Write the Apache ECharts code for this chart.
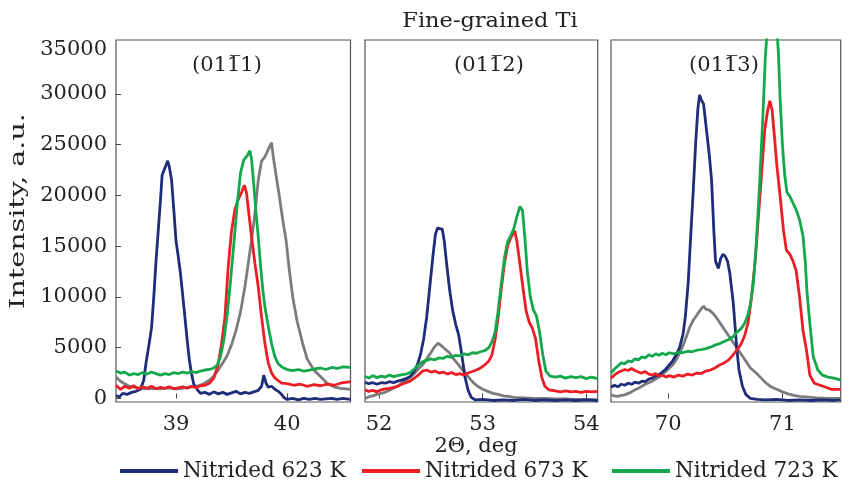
<!DOCTYPE html>
<html>
<head>
<meta charset="utf-8">
<script src="https://cdn.jsdelivr.net/npm/echarts@6.0.0/dist/echarts.min.js"></script>
<style>
  body { margin: 0; background: #fff; }
  #main { width: 849px; height: 486px; }
</style>
</head>
<body>
<div id="main"></div>
<script>
// series names (gray curve is not in the legend)
var names = ["Nitrided 623 K", "Nitrided 673 K", "Nitrided 723 K", "Initial"];
var colors = ["#1e2c7a", "#ec1d25", "#13a84b", "#7c7c7c"];
var panelTitles = ["(011\u03051)", "(011\u03052)", "(011\u03053)"];
var xTicks = [[39, 40], [52, 53, 54], [70, 71]];
var yTicks = [0, 5000, 10000, 15000, 20000, 25000, 30000, 35000];

// panel 1: (01-11)
var p1Blue = [[38.46,300],[38.49,150],[38.52,500],[38.56,400],[38.60,600],[38.64,700],[38.68,900],[38.71,1800],[38.73,3500],[38.76,5500],[38.78,7000],[38.80,10000],[38.82,13500],[38.84,16500],[38.86,19500],[38.875,22000],[38.90,22700],[38.925,23400],[38.94,22800],[38.96,21500],[38.98,18600],[39.00,15500],[39.02,14000],[39.04,12300],[39.06,10200],[39.08,8000],[39.10,5800],[39.12,3800],[39.14,2400],[39.16,1400],[39.19,900],[39.22,500],[39.26,600],[39.30,400],[39.34,650],[39.38,450],[39.42,600],[39.46,400],[39.50,550],[39.54,700],[39.58,450],[39.62,600],[39.66,500],[39.70,650],[39.74,800],[39.77,1200],[39.79,2300],[39.81,1500],[39.83,1100],[39.86,1200],[39.89,900],[39.92,700],[39.95,400],[39.97,100],[40.00,-100],[40.05,0],[40.10,-150],[40.15,0],[40.20,-100],[40.25,0],[40.30,-100],[40.35,-50],[40.40,0],[40.45,-100],[40.50,0],[40.57,-100]];
var p1Red = [[38.46,1300],[38.50,900],[38.54,1200],[38.58,1000],[38.62,1250],[38.66,950],[38.70,1150],[38.74,1000],[38.78,1200],[38.82,950],[38.86,1100],[38.90,1000],[38.94,1150],[38.98,950],[39.02,1050],[39.06,1150],[39.10,1000],[39.14,1200],[39.18,1050],[39.22,1250],[39.26,1300],[39.30,1500],[39.34,2000],[39.38,3400],[39.41,5400],[39.44,8000],[39.47,13000],[39.50,16500],[39.53,18600],[39.56,19600],[39.59,20300],[39.615,21000],[39.635,20200],[39.65,18700],[39.68,15900],[39.71,13300],[39.74,11000],[39.77,8000],[39.80,5400],[39.83,3500],[39.86,2500],[39.89,2000],[39.95,1500],[40.00,1450],[40.06,1300],[40.12,1400],[40.18,1200],[40.24,1350],[40.30,1250],[40.36,1400],[40.42,1300],[40.48,1500],[40.57,1650]];
var p1Green = [[38.46,2700],[38.50,2500],[38.54,2600],[38.58,2300],[38.62,2450],[38.66,2350],[38.70,2550],[38.74,2400],[38.78,2600],[38.82,2450],[38.86,2300],[38.90,2450],[38.94,2350],[38.98,2550],[39.02,2450],[39.06,2600],[39.10,2500],[39.14,2650],[39.18,2550],[39.22,2700],[39.26,2800],[39.30,2850],[39.34,3000],[39.37,3300],[39.40,4100],[39.43,5700],[39.46,8200],[39.49,11500],[39.52,15200],[39.55,19000],[39.58,22200],[39.61,23500],[39.64,23900],[39.665,24400],[39.68,23500],[39.70,21000],[39.72,18300],[39.74,15900],[39.76,13200],[39.78,10800],[39.80,9000],[39.83,7100],[39.86,5400],[39.89,4100],[39.92,3400],[39.96,3050],[40.00,2850],[40.05,2750],[40.10,2850],[40.15,2700],[40.20,2800],[40.25,2900],[40.30,3000],[40.35,2850],[40.40,3050],[40.45,2950],[40.50,3100],[40.57,3050]];
var p1Gray = [[38.46,2100],[38.50,1700],[38.53,1500],[38.57,1250],[38.61,1150],[38.66,1050],[38.70,1000],[38.75,950],[38.80,1000],[38.85,950],[38.90,1000],[38.95,1050],[39.00,950],[39.05,1000],[39.10,1100],[39.15,1150],[39.20,1250],[39.25,1450],[39.30,1800],[39.34,2200],[39.38,2800],[39.42,3500],[39.46,4200],[39.50,5300],[39.54,6700],[39.58,8500],[39.62,11000],[39.65,13300],[39.68,15600],[39.71,18200],[39.74,21500],[39.77,23400],[39.80,23800],[39.83,24500],[39.86,25200],[39.875,23800],[39.90,22000],[39.93,19900],[39.96,17600],[39.99,15600],[40.02,12600],[40.05,10000],[40.09,7600],[40.14,5400],[40.18,3900],[40.24,2800],[40.30,2150],[40.36,1500],[40.42,1150],[40.48,1000],[40.57,900]];

// panel 2: (01-12)
var p2Blue = [[51.865,1600],[51.90,1450],[51.94,1550],[51.98,1400],[52.02,1550],[52.06,1500],[52.10,1650],[52.14,1550],[52.18,1700],[52.22,1800],[52.26,1950],[52.30,2150],[52.34,2700],[52.37,3300],[52.40,4300],[52.43,5800],[52.46,8000],[52.49,11000],[52.52,14000],[52.545,16200],[52.565,16800],[52.59,16700],[52.61,16700],[52.63,15500],[52.65,13500],[52.68,10800],[52.71,8700],[52.74,7300],[52.77,6200],[52.80,4200],[52.83,2100],[52.86,800],[52.89,100],[52.93,-150],[53.0,-100],[53.1,-200],[53.2,-150],[53.3,-200],[53.4,-100],[53.5,-200],[53.6,-150],[53.7,-200],[53.8,-150],[53.9,-200],[54.0,-150],[54.11,-200]];
var p2Red = [[51.865,850],[51.90,700],[51.94,800],[51.98,650],[52.02,850],[52.06,950],[52.10,1000],[52.14,1100],[52.18,1200],[52.22,1400],[52.26,1550],[52.30,1700],[52.34,2000],[52.38,2300],[52.42,2700],[52.46,2800],[52.50,2600],[52.54,2700],[52.58,2500],[52.62,2600],[52.66,2400],[52.70,2550],[52.74,2350],[52.78,2450],[52.82,2300],[52.86,2500],[52.90,2650],[52.94,2800],[52.98,3000],[53.02,3300],[53.06,3700],[53.09,4300],[53.12,5800],[53.15,8000],[53.18,10800],[53.21,13300],[53.24,15000],[53.27,15800],[53.31,16500],[53.33,15500],[53.36,13200],[53.39,10800],[53.42,8600],[53.45,7500],[53.48,6900],[53.51,5900],[53.54,3800],[53.57,2100],[53.60,1200],[53.64,850],[53.70,750],[53.75,650],[53.80,750],[53.85,650],[53.90,700],[53.95,600],[54.00,700],[54.05,650],[54.11,700]];
var p2Green = [[51.865,2200],[51.90,2000],[51.94,2250],[51.98,2050],[52.02,2200],[52.06,2100],[52.10,2300],[52.14,2150],[52.18,2250],[52.22,2350],[52.26,2400],[52.30,2550],[52.34,2900],[52.38,3300],[52.42,3600],[52.46,3750],[52.50,3900],[52.54,3800],[52.58,4000],[52.62,3950],[52.66,4150],[52.70,4050],[52.74,4250],[52.78,4200],[52.82,4400],[52.86,4300],[52.90,4500],[52.94,4450],[52.98,4600],[53.02,4700],[53.06,5000],[53.09,5600],[53.12,6500],[53.15,8700],[53.18,11300],[53.21,13800],[53.24,15400],[53.27,16000],[53.30,16700],[53.33,17900],[53.36,18900],[53.385,18500],[53.41,15500],[53.43,12600],[53.46,10000],[53.49,8700],[53.52,8100],[53.55,6500],[53.58,4300],[53.61,2700],[53.65,2200],[53.70,2100],[53.75,2200],[53.80,2000],[53.85,2150],[53.90,2050],[53.95,2150],[54.00,1950],[54.05,2100],[54.11,1950]];
var p2Gray = [[51.865,0],[51.90,150],[51.94,250],[51.98,400],[52.02,500],[52.06,600],[52.10,800],[52.14,1000],[52.18,1200],[52.22,1500],[52.26,1750],[52.30,2100],[52.34,2450],[52.38,2900],[52.42,3300],[52.46,3900],[52.50,4500],[52.53,5000],[52.57,5450],[52.60,5200],[52.64,4850],[52.68,4500],[52.72,3900],[52.76,3400],[52.80,2900],[52.84,2400],[52.88,1900],[52.92,1450],[52.96,1150],[53.00,900],[53.05,700],[53.10,500],[53.15,400],[53.20,250],[53.25,200],[53.30,100],[53.40,50],[53.50,0],[53.60,0],[53.70,-50],[53.80,-50],[53.90,-100],[54.00,-100],[54.11,-150]];

// panel 3: (01-13)
var p3Blue = [[69.50,1100],[69.53,1300],[69.56,1150],[69.59,1400],[69.62,1300],[69.65,1500],[69.68,1400],[69.71,1600],[69.74,1500],[69.77,1700],[69.80,1650],[69.83,1900],[69.86,2000],[69.89,2200],[69.92,2350],[69.95,2600],[69.98,2900],[70.01,3300],[70.04,3700],[70.07,4300],[70.10,5000],[70.13,6300],[70.15,8000],[70.175,11300],[70.20,16500],[70.22,20500],[70.24,25000],[70.26,28500],[70.275,29900],[70.29,29400],[70.31,29000],[70.335,26500],[70.36,24000],[70.38,21500],[70.40,16500],[70.415,13500],[70.44,12800],[70.46,13800],[70.48,14200],[70.50,14000],[70.52,13500],[70.54,12300],[70.57,9400],[70.60,5000],[70.62,2800],[70.65,1200],[70.68,400],[70.72,0],[70.78,-100],[70.85,-150],[70.95,-100],[71.05,-200],[71.15,-150],[71.25,-200],[71.35,-150],[71.45,-200],[71.51,-150]];
var p3Red = [[69.50,2000],[69.53,2300],[69.56,2550],[69.59,2700],[69.62,2850],[69.65,2750],[69.68,2950],[69.71,2750],[69.74,2600],[69.77,2500],[69.80,2650],[69.83,2400],[69.86,2300],[69.89,2450],[69.92,2200],[69.95,2300],[69.98,2100],[70.01,2250],[70.05,2100],[70.09,2300],[70.13,2200],[70.17,2400],[70.21,2300],[70.25,2500],[70.29,2450],[70.33,2700],[70.37,2800],[70.41,3000],[70.45,3300],[70.49,3500],[70.53,3800],[70.57,4300],[70.61,4900],[70.64,5400],[70.67,6200],[70.70,7500],[70.73,10000],[70.76,13300],[70.79,17900],[70.82,22500],[70.845,26400],[70.87,28300],[70.89,29300],[70.91,28400],[70.93,25800],[70.95,23100],[70.98,19900],[71.01,16500],[71.035,14600],[71.065,14200],[71.09,13600],[71.12,12600],[71.15,10000],[71.18,6700],[71.21,4800],[71.24,2300],[71.28,1500],[71.33,1300],[71.38,1100],[71.43,900],[71.51,900]];
var p3Green = [[69.50,2500],[69.53,2900],[69.56,3200],[69.59,3500],[69.62,3400],[69.65,3700],[69.68,3600],[69.71,3900],[69.74,3800],[69.77,4100],[69.80,4000],[69.83,4300],[69.86,4150],[69.89,4400],[69.92,4250],[69.95,4450],[69.98,4300],[70.01,4500],[70.05,4400],[70.09,4550],[70.13,4500],[70.17,4650],[70.21,4600],[70.25,4750],[70.29,4800],[70.33,4900],[70.37,5050],[70.41,5250],[70.45,5400],[70.49,5600],[70.53,5800],[70.57,6100],[70.60,6500],[70.64,6900],[70.67,7400],[70.70,8300],[70.72,9300],[70.745,11300],[70.77,15000],[70.80,21000],[70.83,28000],[70.85,33500],[70.88,38500],[70.91,41000],[70.94,38500],[70.965,34000],[70.98,29500],[71.00,25000],[71.02,22000],[71.04,20300],[71.065,19900],[71.09,19300],[71.12,18600],[71.15,17600],[71.18,16000],[71.20,13500],[71.215,10500],[71.24,7400],[71.27,4100],[71.31,2800],[71.35,2300],[71.40,2100],[71.45,2000],[71.51,1800]];
var p3Gray = [[69.50,350],[69.53,250],[69.56,200],[69.59,300],[69.62,350],[69.65,500],[69.68,650],[69.71,850],[69.74,1000],[69.77,1200],[69.80,1400],[69.83,1550],[69.86,1700],[69.89,1900],[69.92,2100],[69.95,2350],[69.98,2650],[70.01,3000],[70.04,3300],[70.07,3800],[70.10,4450],[70.13,5200],[70.16,6100],[70.19,7050],[70.22,7700],[70.25,8200],[70.28,8700],[70.31,9100],[70.33,8800],[70.36,8700],[70.39,8400],[70.42,8000],[70.45,7500],[70.48,7000],[70.51,6500],[70.54,6000],[70.57,5500],[70.60,5000],[70.63,4500],[70.66,4000],[70.69,3500],[70.72,3000],[70.75,2700],[70.78,2400],[70.81,2050],[70.84,1700],[70.87,1400],[70.90,1150],[70.95,900],[71.00,650],[71.05,450],[71.10,300],[71.15,200],[71.20,150],[71.30,50],[71.40,0],[71.51,0]];

var panels = [
  { data: [p1Blue, p1Red, p1Green, p1Gray], min: 38.46, max: 40.57, left: 116, width: 234.5 },
  { data: [p2Blue, p2Red, p2Green, p2Gray], min: 51.865, max: 54.11, left: 365, width: 232.7 },
  { data: [p3Blue, p3Red, p3Green, p3Gray], min: 69.5, max: 71.51, left: 611, width: 229.7 }
];

var font = "DejaVu Serif";
var textColor = "#222";

var grids = [], xAxes = [], yAxes = [], series = [];
panels.forEach(function (p, i) {
  grids.push({
    left: p.left, top: 40, width: p.width, height: 362,
    show: true, borderColor: "#555", borderWidth: 1.2, backgroundColor: "#fff"
  });
  xAxes.push({
    type: "value", gridIndex: i, min: p.min, max: p.max,
    splitLine: { show: false },
    axisLine: { show: false },
    axisTick: { show: true, inside: true, length: 5, customValues: xTicks[i], lineStyle: { color: "#444" } },
    axisLabel: { customValues: xTicks[i], margin: 12, fontFamily: font, fontSize: 21, color: textColor }
  });
  yAxes.push({
    type: "value", gridIndex: i, min: -350, max: 35300,
    splitLine: { show: false },
    axisLine: { show: false },
    axisTick: { show: i === 0, inside: true, length: 5, customValues: yTicks.slice(0, 7), lineStyle: { color: "#444" } },
    axisLabel: {
      show: i === 0, customValues: yTicks, margin: 9, fontFamily: font, fontSize: 21, color: textColor,
      // top label sits a little lower in the original
      formatter: function (v) { return v === 35000 ? "{top|35000}" : String(v); },
      rich: { top: { fontFamily: font, fontSize: 21, color: textColor, padding: [14, 0, 0, 0] } }
    }
  });
  // gray first so the coloured curves sit on top of it
  [3, 0, 1, 2].forEach(function (k) {
    series.push({
      name: names[k], type: "line", xAxisIndex: i, yAxisIndex: i,
      data: p.data[k], symbol: "none", clip: true,
      lineStyle: { color: colors[k], width: 2.8 },
      itemStyle: { color: colors[k] },
      emphasis: { disabled: true }
    });
  });
});

var legendLeft = [120, 362, 612];
var legends = legendLeft.map(function (x, k) {
  return {
    data: [names[k]], left: x, top: 460, padding: 0, icon: "rect", itemWidth: 58, itemHeight: 4,
    selectedMode: false,
    textStyle: { fontFamily: font, fontSize: 21.5, color: textColor }
  };
});

var graphics = [
  { type: "text", x: 490, y: 22, scaleX: 1.07,
    style: { text: "Fine-grained Ti", font: "21px " + font, fill: textColor, align: "center", verticalAlign: "middle" } },
  { type: "text", x: 19, y: 211, rotation: Math.PI / 2, scaleX: 1.36,
    style: { text: "Intensity, a.u.", font: "21px " + font, fill: textColor, align: "center", verticalAlign: "middle" } },
  { type: "text", x: 476, y: 447,
    style: { text: "2\u0398, deg", font: "21px " + font, fill: textColor, align: "center", verticalAlign: "middle" } }
];
var labelX = [227, 489, 724];
panelTitles.forEach(function (t, i) {
  graphics.push({ type: "text", x: labelX[i], y: 66, z: 100,
    style: { text: t, font: "21px " + font, fill: textColor, align: "center", verticalAlign: "middle" } });
});

var chart = echarts.init(document.getElementById("main"));
var option = {
  backgroundColor: "#fff",
  animation: false,
  grid: grids,
  xAxis: xAxes,
  yAxis: yAxes,
  legend: legends,
  graphic: graphics,
  series: series
};
chart.setOption(option);
</script>
</body>
</html>
